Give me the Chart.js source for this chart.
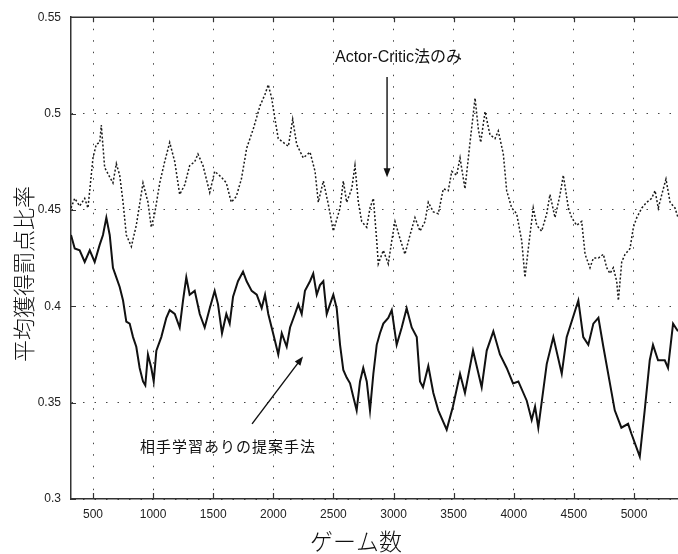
<!DOCTYPE html>
<html>
<head>
<meta charset="utf-8">
<script src="https://cdn.jsdelivr.net/npm/chart.js@4.4.1/dist/chart.umd.min.js"></script>
<style>
  html, body { margin: 0; padding: 0; background: #fff; }
</style>
</head>
<body>
<canvas id="myChart" width="678" height="554"></canvas>
<script>
// Actor-Critic only (dotted line)
const gamesAC = [317,348,389,431,458,500,527,556,569,597,
  639,666,694,722,750,777,819,860,888,916,
  957,985,1013,1055,1096,1138,1180,1221,1263,1304,
  1346,1373,1415,1471,1512,1567,1609,1650,1692,1734,
  1762,1778,1833,1889,1931,1958,1986,2014,2041,2083,
  2125,2161,2194,2249,2305,2347,2374,2416,2457,2499,
  2555,2582,2610,2652,2679,2707,2735,2777,2804,2832,
  2860,2873,2915,2956,2985,3012,3054,3095,3137,3178,
  3220,3262,3289,3331,3372,3414,3455,3484,3525,3553,
  3594,3636,3678,3705,3725,3761,3802,3844,3871,3913,
  3941,3983,4024,4066,4093,4121,4162,4191,4232,4274,
  4301,4343,4385,4412,4454,4482,4523,4565,4593,4634,
  4662,4704,4745,4773,4800,4828,4856,4870,4898,4926,
  4967,4995,5023,5065,5106,5147,5175,5202,5244,5266,
  5300,5341,5366];
const rateAC = [.451,.456,.452,.456,.451,.477,.484,.485,.494,.472,
  .467,.464,.474,.468,.454,.437,.431,.442,.453,.464,
  .454,.441,.448,.464,.475,.485,.475,.458,.463,.473,
  .475,.479,.473,.459,.470,.467,.464,.454,.457,.466,
  .476,.482,.492,.504,.510,.515,.508,.497,.487,.485,
  .483,.497,.484,.477,.480,.470,.454,.465,.453,.439,
  .451,.465,.454,.461,.473,.454,.444,.441,.451,.456,
  .434,.422,.429,.422,.434,.444,.435,.427,.437,.446,
  .439,.444,.454,.449,.448,.461,.460,.470,.468,.477,
  .461,.485,.508,.492,.485,.501,.489,.487,.491,.479,
  .460,.451,.448,.434,.415,.430,.451,.442,.439,.448,
  .458,.446,.458,.468,.451,.446,.442,.444,.427,.420,
  .425,.425,.427,.420,.417,.420,.413,.403,.423,.427,
  .430,.441,.446,.451,.454,.456,.460,.451,.461,.466,
  .454,.451,.446];

// proposed method with opponent learning (solid line)
const gamesProp = [317,348,389,431,473,514,556,583,611,639,
  666,694,722,750,777,805,833,860,888,916,
  935,957,985,1005,1027,1068,1110,1138,1180,1221,
  1249,1276,1304,1346,1388,1429,1471,1512,1540,1573,
  1609,1637,1665,1706,1748,1778,1820,1862,1903,1931,
  1958,1986,2014,2041,2070,2111,2139,2180,2208,2236,
  2263,2305,2332,2361,2388,2416,2444,2471,2499,2527,
  2555,2582,2610,2638,2665,2693,2721,2748,2777,2804,
  2832,2860,2887,2915,2956,2985,3026,3068,3109,3151,
  3193,3220,3245,3289,3331,3372,3442,3494,3553,3594,
  3661,3733,3775,3830,3885,3941,3994,4038,4108,4149,
  4177,4204,4274,4329,4399,4440,4537,4578,4620,4662,
  4704,4745,4840,4895,4951,4978,5048,5089,5131,5158,
  5200,5256,5283,5325,5366];
const rateProp = [.437,.430,.429,.423,.429,.423,.432,.437,.446,.437,
  .420,.415,.410,.403,.392,.391,.384,.379,.368,.361,
  .359,.375,.368,.361,.377,.384,.394,.398,.396,.389,
  .403,.415,.406,.408,.396,.389,.399,.408,.401,.386,
  .396,.391,.405,.413,.418,.413,.408,.406,.399,.406,
  .396,.389,.382,.375,.386,.379,.389,.396,.401,.396,
  .408,.413,.417,.406,.411,.413,.396,.401,.406,.399,
  .380,.367,.363,.360,.353,.346,.361,.368,.361,.346,
  .365,.380,.386,.391,.394,.398,.380,.389,.399,.389,
  .384,.361,.358,.369,.355,.346,.336,.348,.365,.355,
  .377,.358,.377,.387,.375,.368,.360,.361,.351,.341,
  .348,.337,.370,.384,.365,.384,.403,.384,.380,.391,
  .394,.379,.346,.337,.339,.334,.322,.346,.372,.380,
  .372,.372,.368,.391,.387];

const xTicks = [500, 1000, 1500, 2000, 2500, 3000, 3500, 4000, 4500, 5000];
const yTicks = [0.3, 0.35, 0.4, 0.45, 0.5, 0.55];

const toPoints = (xs, ys) => xs.map((g, i) => ({x: g, y: ys[i]}));

const tickFont = {family: '"Liberation Sans", Arial, sans-serif', size: 12};
const jpFont = '"Liberation Sans", "Noto Sans CJK JP", sans-serif';

function arrow(ctx, x1, y1, x2, y2) {
  const ang = Math.atan2(y2 - y1, x2 - x1);
  const len = 9, half = 3.5;
  ctx.beginPath();
  ctx.moveTo(x1, y1);
  ctx.lineTo(x2 - Math.cos(ang) * len * 0.8, y2 - Math.sin(ang) * len * 0.8);
  ctx.stroke();
  ctx.beginPath();
  ctx.moveTo(x2, y2);
  ctx.lineTo(x2 - Math.cos(ang) * len - Math.sin(ang) * half, y2 - Math.sin(ang) * len + Math.cos(ang) * half);
  ctx.lineTo(x2 - Math.cos(ang) * len + Math.sin(ang) * half, y2 - Math.sin(ang) * len - Math.cos(ang) * half);
  ctx.closePath();
  ctx.fill();
}

// frame, inward ticks, labels with arrows, axis titles
const extras = {
  id: 'extras',
  afterDraw(chart) {
    const {ctx, chartArea: a, scales: {x, y}} = chart;
    ctx.save();
    ctx.strokeStyle = '#333';
    ctx.lineWidth = 1.5;
    ctx.beginPath();
    ctx.moveTo(a.left, a.top);
    ctx.lineTo(a.right, a.top);
    ctx.stroke();

    ctx.lineWidth = 1.2;
    ctx.beginPath();
    xTicks.forEach(v => {
      const px = Math.round(x.getPixelForValue(v)) + 0.5;
      ctx.moveTo(px, a.bottom); ctx.lineTo(px, a.bottom - 6);
      ctx.moveTo(px, a.top); ctx.lineTo(px, a.top + 5);
    });
    yTicks.forEach(v => {
      const py = Math.round(y.getPixelForValue(v)) + 0.5;
      ctx.moveTo(a.left, py); ctx.lineTo(a.left + 5, py);
    });
    ctx.stroke();

    // annotations
    ctx.fillStyle = '#111';
    ctx.strokeStyle = '#111';
    ctx.lineWidth = 1.4;
    ctx.font = '16px ' + jpFont;
    ctx.textAlign = 'left';
    ctx.textBaseline = 'middle';
    ctx.fillText('Actor-Critic法のみ', x.getPixelForValue(2513), y.getPixelForValue(0.529));
    arrow(ctx, x.getPixelForValue(2946), y.getPixelForValue(0.519),
               x.getPixelForValue(2946), y.getPixelForValue(0.467));
    ctx.save();
    ctx.letterSpacing = '1px';
    ctx.font = '15px ' + jpFont;
    ctx.fillText('相手学習ありの提案手法', x.getPixelForValue(891), y.getPixelForValue(0.3265));
    ctx.restore();
    arrow(ctx, x.getPixelForValue(1823), y.getPixelForValue(0.339),
               x.getPixelForValue(2247), y.getPixelForValue(0.374));

    // axis titles
    ctx.textAlign = 'center';
    ctx.font = '300 23px "Noto Sans CJK JP", sans-serif';
    ctx.fillText('ゲーム数', 356, 541);
    ctx.save();
    ctx.translate(24, 274);
    ctx.rotate(-Math.PI / 2);
    ctx.font = '300 22px "Noto Sans CJK JP", sans-serif';
    ctx.fillText('平均獲得罰点比率', 0, 0);
    ctx.restore();
    ctx.restore();
  }
};

new Chart(document.getElementById('myChart'), {
  type: 'line',
  data: {
    datasets: [
      {
        label: 'Actor-Critic法のみ',
        data: toPoints(gamesAC, rateAC),
        borderColor: '#1a1a1a',
        borderWidth: 1.5,
        borderDash: [2, 2],
        pointRadius: 0,
        tension: 0
      },
      {
        label: '相手学習ありの提案手法',
        data: toPoints(gamesProp, rateProp),
        borderColor: '#111',
        borderWidth: 2,
        pointRadius: 0,
        tension: 0
      }
    ]
  },
  options: {
    responsive: false,
    animation: false,
    layout: {autoPadding: false, padding: {top: 15, right: 0, bottom: 0, left: 0}},
    plugins: {legend: {display: false}, tooltip: {enabled: false}},
    scales: {
      x: {
        type: 'linear',
        min: 317,
        max: 5366,
        afterFit: s => { s.height = 55; },
        afterBuildTicks: s => { s.ticks = xTicks.map(v => ({value: v})); },
        ticks: {font: tickFont, color: '#222', padding: 8, maxRotation: 0, callback: v => String(v)},
        grid: {color: '#444', lineWidth: 1, drawTicks: false},
        border: {color: '#333', width: 1.5, dash: [1.5, 10]}
      },
      y: {
        min: 0.3,
        max: 0.55,
        afterFit: s => { s.width = 71; },
        afterBuildTicks: s => { s.ticks = yTicks.map(v => ({value: v})); },
        ticks: {font: tickFont, color: '#222', padding: 10, callback: v => String(v)},
        grid: {color: '#444', lineWidth: 1, drawTicks: false},
        border: {color: '#333', width: 1.5, dash: [1.5, 10]}
      }
    }
  },
  plugins: [extras]
});
</script>
</body>
</html>
